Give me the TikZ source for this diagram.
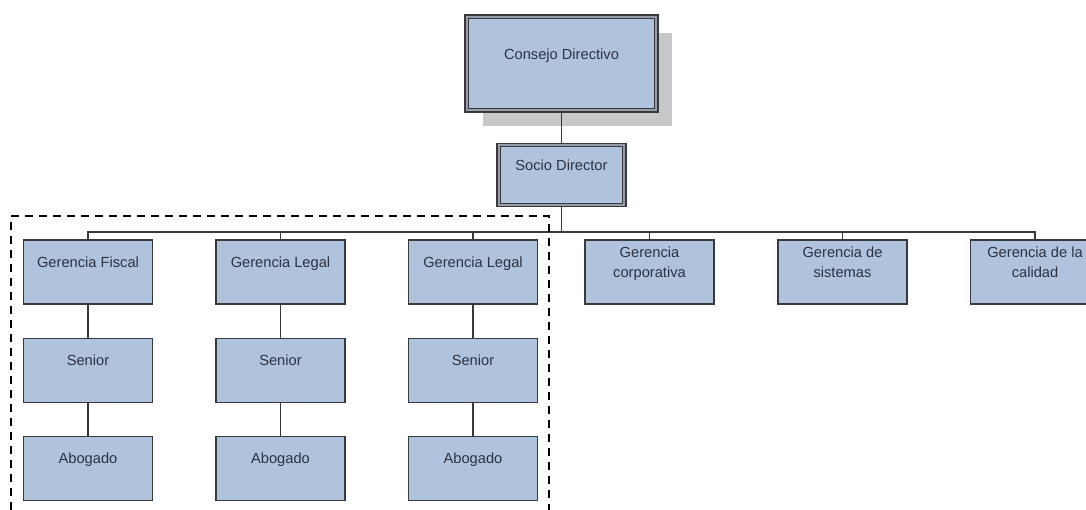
\documentclass[tikz,border=0pt]{standalone}
\usepackage{fontspec}
\setmainfont{Liberation Sans}
\usetikzlibrary{positioning,shadows}
\definecolor{orgfill}{RGB}{176,195,220}
\definecolor{orgline}{RGB}{55,57,62}
\definecolor{orgtext}{RGB}{45,50,65}
\definecolor{orgband}{RGB}{150,156,168}
\definecolor{orgshadow}{RGB}{200,200,200}

\begin{document}
\begin{tikzpicture}[x=0.75pt,y=-0.75pt,node distance=24.75pt,
  unit/.style={draw=orgline,fill=orgfill,text=orgtext,line width=0.9pt,
               align=center,inner sep=0pt,minimum width=96.75pt,minimum height=48pt,
               font=\fontsize{11}{15}\selectfont,text depth=14.8pt},
  head/.style={unit,line width=1pt,double=orgband,double distance=1.6pt},
  link/.style={draw=orgline,line width=0.8pt},
  group/.style={draw=black,line width=1.1pt,dash pattern=on 6pt off 4.5pt}]
  \useasboundingbox (0,0) rectangle (1086,510);
  % cabeza
  \node[head,minimum width=142pt,minimum height=70pt,text depth=14pt,
        drop shadow={shadow xshift=12pt,shadow yshift=-12pt,fill=orgshadow,opacity=1}]
        (cons) at (561.5,63.5) {Consejo Directivo};
  \node[head,minimum width=94pt,minimum height=45pt] (soc) at (561.5,175) {Socio Director};
  % gerencias
  \node[unit] (fis) at (88,272)   {Gerencia Fiscal};
  \node[unit] (le1) at (280.5,272) {Gerencia Legal};
  \node[unit] (le2) at (473,272)  {Gerencia Legal};
  \node[unit] (cor) at (649.5,272) {Gerencia\\ corporativa};
  \node[unit] (sis) at (842.5,272) {Gerencia de\\ sistemas};
  \node[unit] (cal) at (1035,272) {Gerencia de la\\ calidad};
  % senior y abogado
  \node[unit,below=of fis] (sen1) {Senior};
  \node[unit,below=of le1] (sen2) {Senior};
  \node[unit,below=of le2] (sen3) {Senior};
  \node[unit,below=of sen1] (abo1) {Abogado};
  \node[unit,below=of sen2] (abo2) {Abogado};
  \node[unit,below=of sen3] (abo3) {Abogado};
  % lineas
  \draw[link] (cons) -- (soc);
  \draw[link] (soc.south) -- (561.5,232) coordinate (bus);
  \draw[link] (fis.north) |- (bus) -| (cal.north);
  \foreach \g in {le1,le2,cor,sis}
    \draw[link] (\g.north) -- (\g.north |- bus);
  \draw[link] (fis) -- (sen1) -- (abo1);
  \draw[link] (le1) -- (sen2) -- (abo2);
  \draw[link] (le2) -- (sen3) -- (abo3);
  % grupo punteado
  \coordinate (gbl) at (11,510);
  \coordinate (gtl) at (11,216);
  \coordinate (gtr) at (549,216);
  \coordinate (gbr) at (549,510);
  \draw[group] (gbl) -- (gtl) -- (gtr) -- (gbr);
\end{tikzpicture}
\end{document}
